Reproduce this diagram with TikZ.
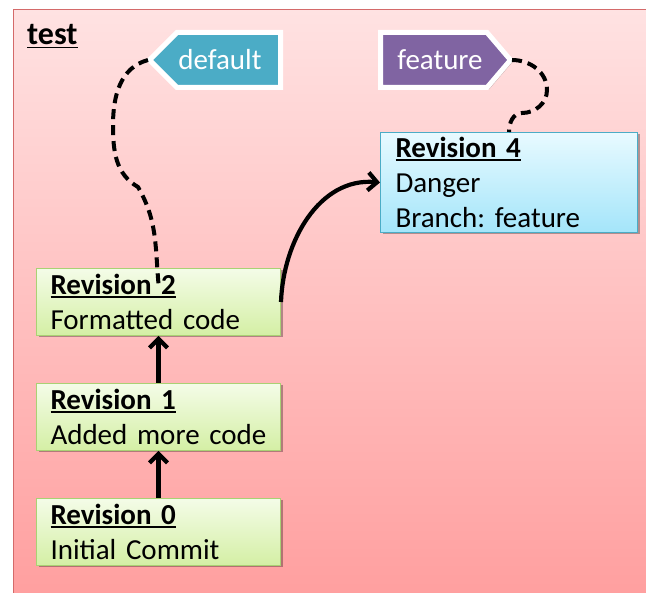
\documentclass[tikz,border=0pt]{standalone}
\usepackage{fontspec}
\setmainfont{Carlito}
\usetikzlibrary{arrows.meta,shadows}
\definecolor{bgtop}{HTML}{FFE2E2}
\definecolor{bgbot}{HTML}{FF9E9E}
\definecolor{framecol}{HTML}{D46A6A}
\definecolor{grtop}{HTML}{F4FCE8}
\definecolor{grbot}{HTML}{D4EFA4}
\definecolor{grline}{HTML}{A9D174}
\definecolor{bltop}{HTML}{E8FAFF}
\definecolor{blbot}{HTML}{A4E5FA}
\definecolor{blline}{HTML}{4BACC6}
\definecolor{tagblue}{HTML}{4BACC6}
\definecolor{tagpurple}{HTML}{8064A2}
\frenchspacing
% bold title with a heavy underline
\newcommand\ultitle[1]{\leavevmode\setbox0=\hbox{\bfseries #1}\rlap{\rule[-3.5pt]{\wd0}{1.8pt}}\box0}
\begin{document}
\begin{tikzpicture}[x=1pt,y=-1pt,
  boxshadow/.style={drop shadow={shadow xshift=2pt,shadow yshift=-2pt,opacity=0.3,fill=black}},
  revbox/.style={draw=grline, line width=1pt, top color=grtop, bottom color=grbot,
    anchor=north west, minimum width=244pt, minimum height=67pt, text width=216pt,
    inner xsep=14pt, inner ysep=0pt, align=left, font=\fontsize{29}{35}\selectfont, boxshadow},
  featbox/.style={revbox, draw=blline, top color=bltop, bottom color=blbot,
    minimum width=257pt, minimum height=100pt, text width=227pt, inner xsep=15pt},
  tagshape/.style={draw=white, line width=5pt, line join=miter},
  tagshadow/.style={fill=black, opacity=0.25},
  tagtext/.style={text=white, inner sep=0pt, font=\fontsize{29}{35}\selectfont},
  conn/.style={line width=4.2pt, -{Straight Barb[length=9pt,width=18pt]}},
  pin/.style={line width=4pt, dash pattern=on 10pt off 6pt}
]
\useasboundingbox (0,0) rectangle (646,593);
\clip (0,0) rectangle (646,593);

% repository frame
\fill[white] (0,0) rectangle (646,593);
\shade[top color=bgtop, bottom color=bgbot] (13,10) rectangle (660,605);
\draw[framecol, line width=1pt] (13,605) -- (13,10) -- (660,10);
\node[anchor=base west, inner sep=0pt, font=\fontsize{32}{36}\selectfont] (title) at (27,45) {\ultitle{test}};

% revisions
\node[revbox] (rev0) at (36,498) {\ultitle{Revision 0}\\Initial Commit};
\node[revbox] (rev1) at (36,383) {\ultitle{Revision 1}\\Added more code};
\node[revbox] (rev2) at (36,268) {\ultitle{Revision 2}\\Formatted code};
\node[featbox] (rev4) at (380,132) {\ultitle{Revision 4}\\Danger\\Branch: feature};

% branch tag "default" (points left)
\fill[tagshadow] (151.5,62) -- (179,34.5) -- (282.5,34.5) -- (282.5,89.5) -- (179,89.5) -- cycle;
\draw[tagshape, fill=tagblue] (149.5,60) -- (177,32.5) -- (280.5,32.5) -- (280.5,87.5) -- (177,87.5) -- cycle;
\node[tagtext] (deftag) at (220,60) {default};
\coordinate (deftip) at (148,60);

% branch tag "feature" (points right)
\fill[tagshadow] (382.5,34.5) -- (489,34.5) -- (512.5,62) -- (489,89.5) -- (382.5,89.5) -- cycle;
\draw[tagshape, fill=tagpurple] (380.5,32.5) -- (487,32.5) -- (510.5,60) -- (487,87.5) -- (380.5,87.5) -- cycle;
\node[tagtext] (feattag) at (440,60) {feature};
\coordinate (feattip) at (512,60);

% history
\draw[conn] (rev0.north) -- (rev1.south);
\draw[conn] (rev1.north) -- (rev2.south);
\draw[conn] (rev2.east) to[out=88,in=175] (rev4.west);

% branch heads
\coordinate (r2pin) at ([yshift=-16pt]rev2.north);
\draw[pin] (deftip) to[out=195,in=90] (113,125) to[out=-90,in=150] (138,187) to[out=-60,in=95] (r2pin);
\draw[pin] (feattip) to[out=0,in=90] (547,90) to[out=-90,in=0] (522,113) to[out=180,in=90] (rev4.north);
\end{tikzpicture}
\end{document}
